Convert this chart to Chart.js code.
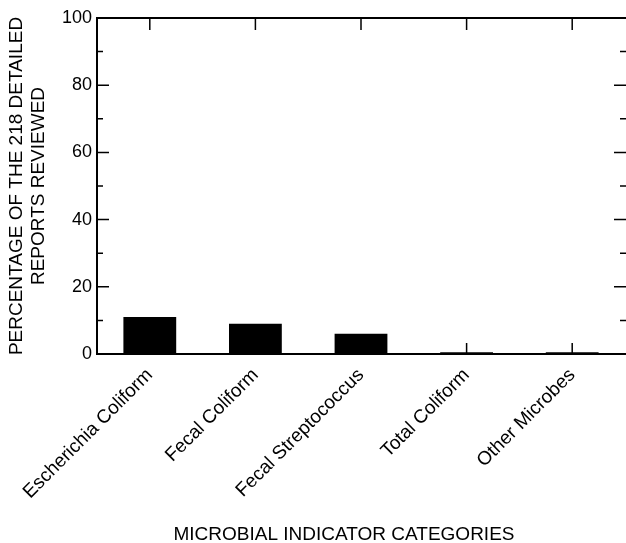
<!DOCTYPE html>
<html>
<head>
<meta charset="utf-8">
<script src="https://cdn.jsdelivr.net/npm/chart.js@4/dist/chart.umd.min.js"></script>
<style>
  body { margin: 0; background: #fff; }
  #wrap { width: 626px; height: 543px; }
</style>
</head>
<body>
<div id="wrap"><canvas id="chart1" width="626" height="543"></canvas></div>
<script>
const categories = ['Escherichia Coliform', 'Fecal Coliform', 'Fecal Streptococcus', 'Total Coliform', 'Other Microbes'];
const percentages = [11, 9, 6, 0.5, 0.5];
const yTicks = [0, 20, 40, 60, 80, 100];
const yMinorTicks = [10, 30, 50, 70, 90];
const yTitle = ['PERCENTAGE OF THE 218 DETAILED', 'REPORTS REVIEWED'];
const xTitle = 'MICROBIAL INDICATOR CATEGORIES';

const FONT = '"Liberation Sans", Arial, Helvetica, sans-serif';

// frame (no right line, it sits off the edge), inward ticks and the x title
const framePlugin = {
  id: 'frame',
  afterDatasetsDraw(chart) {
    const { ctx, chartArea: a, scales } = chart;
    const x = scales.x, y = scales.y;
    ctx.save();
    ctx.strokeStyle = '#000';
    ctx.lineWidth = 2;
    ctx.beginPath();
    ctx.moveTo(a.right + 2, a.top); ctx.lineTo(a.left, a.top);
    ctx.lineTo(a.left, a.bottom); ctx.lineTo(a.right + 2, a.bottom);
    ctx.stroke();
    ctx.lineWidth = 1.5;
    ctx.beginPath();
    yTicks.concat(yMinorTicks).forEach(v => {
      const py = y.getPixelForValue(v);
      const len = yTicks.includes(v) ? 12 : 6;
      ctx.moveTo(a.left, py); ctx.lineTo(a.left + len, py);
      ctx.moveTo(a.right + 1, py); ctx.lineTo(a.right + 1 - len, py);
    });
    categories.forEach((c, i) => {
      const px = x.getPixelForValue(i);
      ctx.moveTo(px, a.bottom); ctx.lineTo(px, a.bottom - 11);
      ctx.moveTo(px, a.top); ctx.lineTo(px, a.top + 12);
    });
    ctx.stroke();
    ctx.fillStyle = '#000';
    ctx.font = '19px ' + FONT;
    ctx.textAlign = 'center';
    ctx.textBaseline = 'middle';
    ctx.fillText(xTitle, 344, 535);
    ctx.restore();
  }
};

new Chart(document.getElementById('chart1'), {
  type: 'bar',
  data: {
    labels: categories,
    datasets: [{
      data: percentages,
      backgroundColor: '#000',
      borderWidth: 0,
      categoryPercentage: 1,
      barPercentage: 0.5
    }]
  },
  options: {
    responsive: false,
    animation: false,
    layout: { padding: { top: 18, right: 1, left: 0, bottom: 0 } },
    plugins: { legend: { display: false }, tooltip: { enabled: false } },
    scales: {
      x: {
        grid: { display: false },
        border: { display: false },
        ticks: {
          color: '#000',
          font: { family: FONT, size: 19 },
          minRotation: 45,
          maxRotation: 45,
          autoSkip: false,
          padding: 2
        },
        afterFit(scale) { scale.height = 189; }
      },
      y: {
        min: 0,
        max: 100,
        grid: { display: false, drawTicks: false },
        border: { display: false },
        ticks: {
          stepSize: 20,
          color: '#000',
          font: { family: FONT, size: 18 },
          padding: 5
        },
        title: {
          display: true,
          text: yTitle,
          color: '#000',
          font: { family: FONT, size: 19, lineHeight: 1.15 },
          padding: { top: 6, bottom: 0 }
        },
        afterFit(scale) { scale.width = 97; }
      }
    }
  },
  plugins: [framePlugin]
});
</script>
</body>
</html>
